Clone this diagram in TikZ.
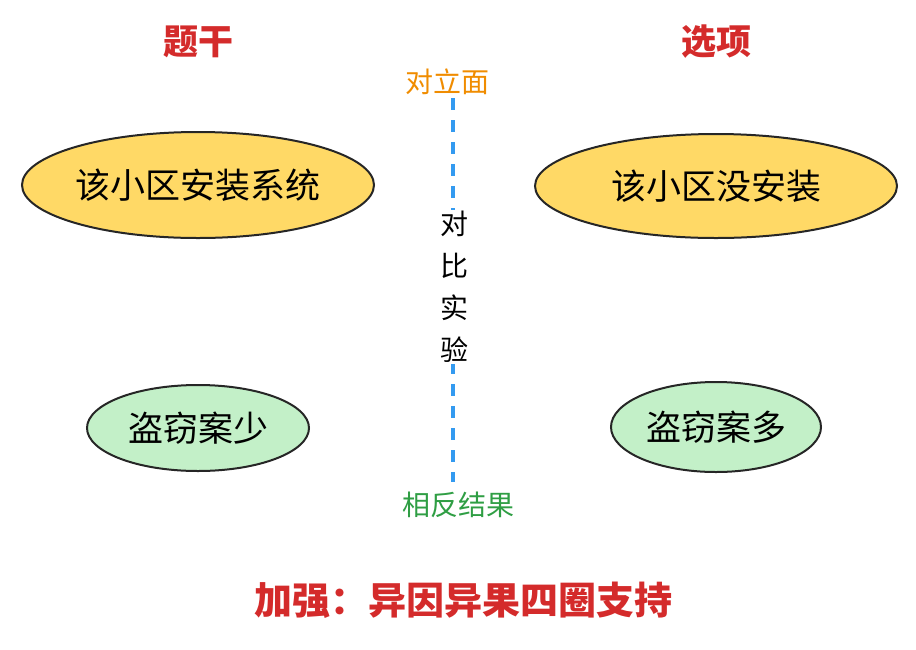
\documentclass[tikz,border=0pt]{standalone}
\usepackage{fontspec}
\setmainfont{Noto Sans CJK SC}
\definecolor{redt}{HTML}{D42B2B}
\definecolor{oranget}{HTML}{F08C00}
\definecolor{greent}{HTML}{2F9E44}
\definecolor{bluel}{HTML}{339AF0}
\definecolor{yel}{HTML}{FFD966}
\definecolor{grn}{HTML}{C3F0C8}
\tikzset{
 yell/.style={ellipse,draw=black!85,line width=2pt,fill=yel,inner sep=0pt,font=\fontsize{35}{35}\selectfont},
 gell/.style={ellipse,draw=black!85,line width=2pt,fill=grn,inner sep=0pt,font=\fontsize{35}{35}\selectfont},
 ttl/.style={text=redt,font=\fontsize{35}{35}\selectfont\bfseries},
 lbl/.style={font=\fontsize{28}{28}\selectfont}
}
\usetikzlibrary{shapes.geometric}
\begin{document}
\begin{tikzpicture}[x=1pt,y=-1pt]
\useasboundingbox (0,0) rectangle (916,649);
\node[ttl] (t1) at (198,42) {题干};
\node[ttl] (t2) at (716,42) {选项};
\coordinate (ltop) at (453,98);
\coordinate (lbot) at (453,482);
\draw[bluel,line width=3.5pt,dash pattern=on 12pt off 10pt] (ltop) -- (lbot);
\node[lbl,text=oranget] (opp) at (447,82) {对立面};
\node[lbl,text=greent] (res) at (458,505) {相反结果};
\node[lbl,align=center,fill=white,inner sep=1pt,font=\fontsize{28}{42}\selectfont] (cmp) at (454,287) {对\\比\\实\\验};
\node[yell,minimum width=352pt,minimum height=106pt] (a) at (198,185) {该小区安装系统};
\node[yell,minimum width=362pt,minimum height=104pt] (b) at (716,186) {该小区没安装};
\node[gell,minimum width=222pt,minimum height=86pt] (c) at (198,428) {盗窃案少};
\node[gell,minimum width=210pt,minimum height=90pt] (d) at (716,427) {盗窃案多};
\node[ttl,font=\fontsize{38}{38}\selectfont\bfseries] (bot) at (463,600) {加强：异因异果四圈支持};
\end{tikzpicture}
\end{document}
